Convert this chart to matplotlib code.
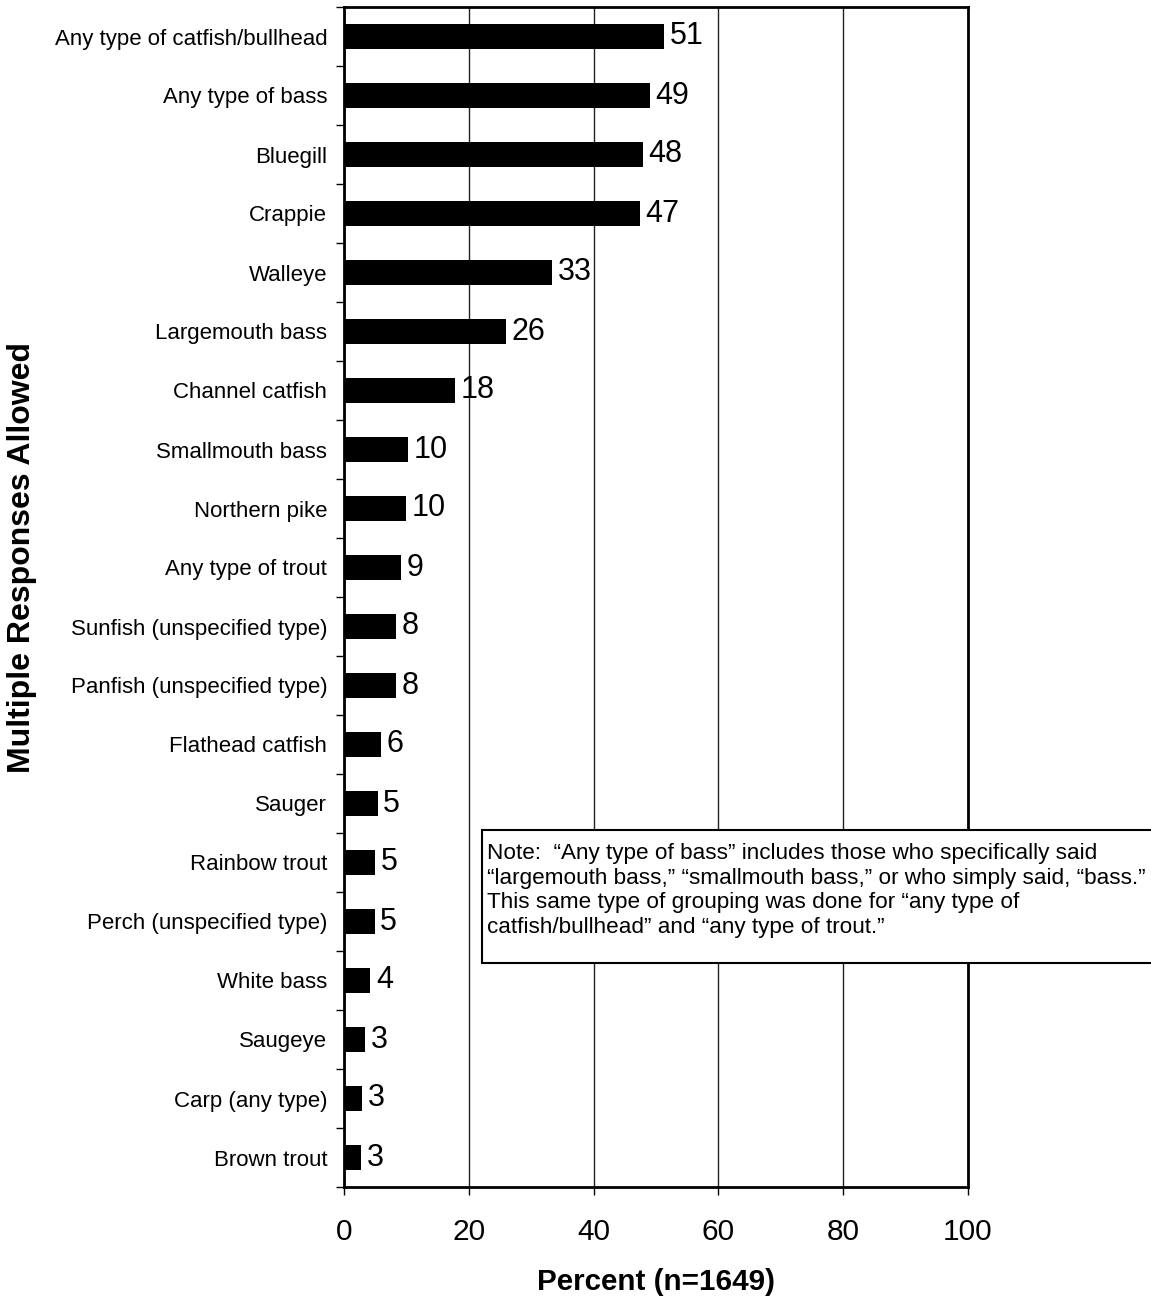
import matplotlib.pyplot as plt
from matplotlib.patches import Rectangle

plt.rcParams['font.family'] = ['Liberation Sans', 'DejaVu Sans']

species = ['Any type of catfish/bullhead', 'Any type of bass', 'Bluegill', 'Crappie',
           'Walleye', 'Largemouth bass', 'Channel catfish', 'Smallmouth bass',
           'Northern pike', 'Any type of trout', 'Sunfish (unspecified type)',
           'Panfish (unspecified type)', 'Flathead catfish', 'Sauger', 'Rainbow trout',
           'Perch (unspecified type)', 'White bass', 'Saugeye', 'Carp (any type)',
           'Brown trout']
percent = [51.3, 49.0, 47.9, 47.4, 33.4, 26.0, 17.8, 10.2, 9.9, 9.2, 8.4, 8.3,
           5.9, 5.4, 5.0, 4.9, 4.2, 3.4, 2.9, 2.8]
xticks = [0, 20, 40, 60, 80, 100]

note = ('Note:  \u201cAny type of bass\u201d includes those who specifically said\n'
        '\u201clargemouth bass,\u201d \u201csmallmouth bass,\u201d or who simply said, \u201cbass.\u201d\n'
        'This same type of grouping was done for \u201cany type of\n'
        'catfish/bullhead\u201d and \u201cany type of trout.\u201d')

W, H = 1151, 1298
fig = plt.figure(figsize=(W / 100, H / 100), dpi=100)
ax = fig.add_axes([344 / W, 1 - 1187 / H, (968 - 344) / W, (1187 - 7) / H])

n = len(species)
ypos = list(range(n))
ax.barh(ypos, percent, height=0.44, color='black', zorder=3)
for y, v in zip(ypos, percent):
    ax.annotate(f'{v:.0f}', (v, y), xytext=(4, 0), textcoords='offset points',
                va='center', ha='left', fontsize=22, zorder=4)

ax.set_xlim(0, 100)
ax.set_ylim(n - 0.5, -0.5)
ax.set_xticks(xticks)
ax.set_xticklabels([str(t) for t in xticks], fontsize=21.5)
ax.tick_params(axis='x', direction='out', length=6, width=1, pad=16)

ax.set_yticks(ypos)
ax.set_yticklabels(species, fontsize=16)
ax.tick_params(axis='y', which='major', length=0, pad=12)
ax.set_yticks([i - 0.5 for i in range(n + 1)], minor=True)
ax.tick_params(axis='y', which='minor', direction='out', length=6, width=1)

ax.grid(axis='x', color='#222222', linewidth=1, zorder=0)
for s in ax.spines.values():
    s.set_linewidth(2)
    s.set_zorder(5)

ax.set_xlabel('Percent (n=1649)', fontsize=21.3, fontweight='bold', labelpad=16)
fig.text(22 / W, 1 - 558 / H, 'Multiple Responses Allowed', rotation=90,
         fontsize=23, fontweight='bold', ha='center', va='center')

# note box over the grid
box = Rectangle((482 / W, 1 - 963 / H), (W - 482 + 5) / W, (963 - 830) / H,
                transform=fig.transFigure, facecolor='white', edgecolor='black',
                linewidth=1.5, zorder=10)
fig.add_artist(box)
fig.text(487 / W, 1 - 843 / H, note, fontsize=16.2, ha='left', va='top',
         linespacing=1.23, zorder=11)

fig.savefig('out.png', dpi=100)
